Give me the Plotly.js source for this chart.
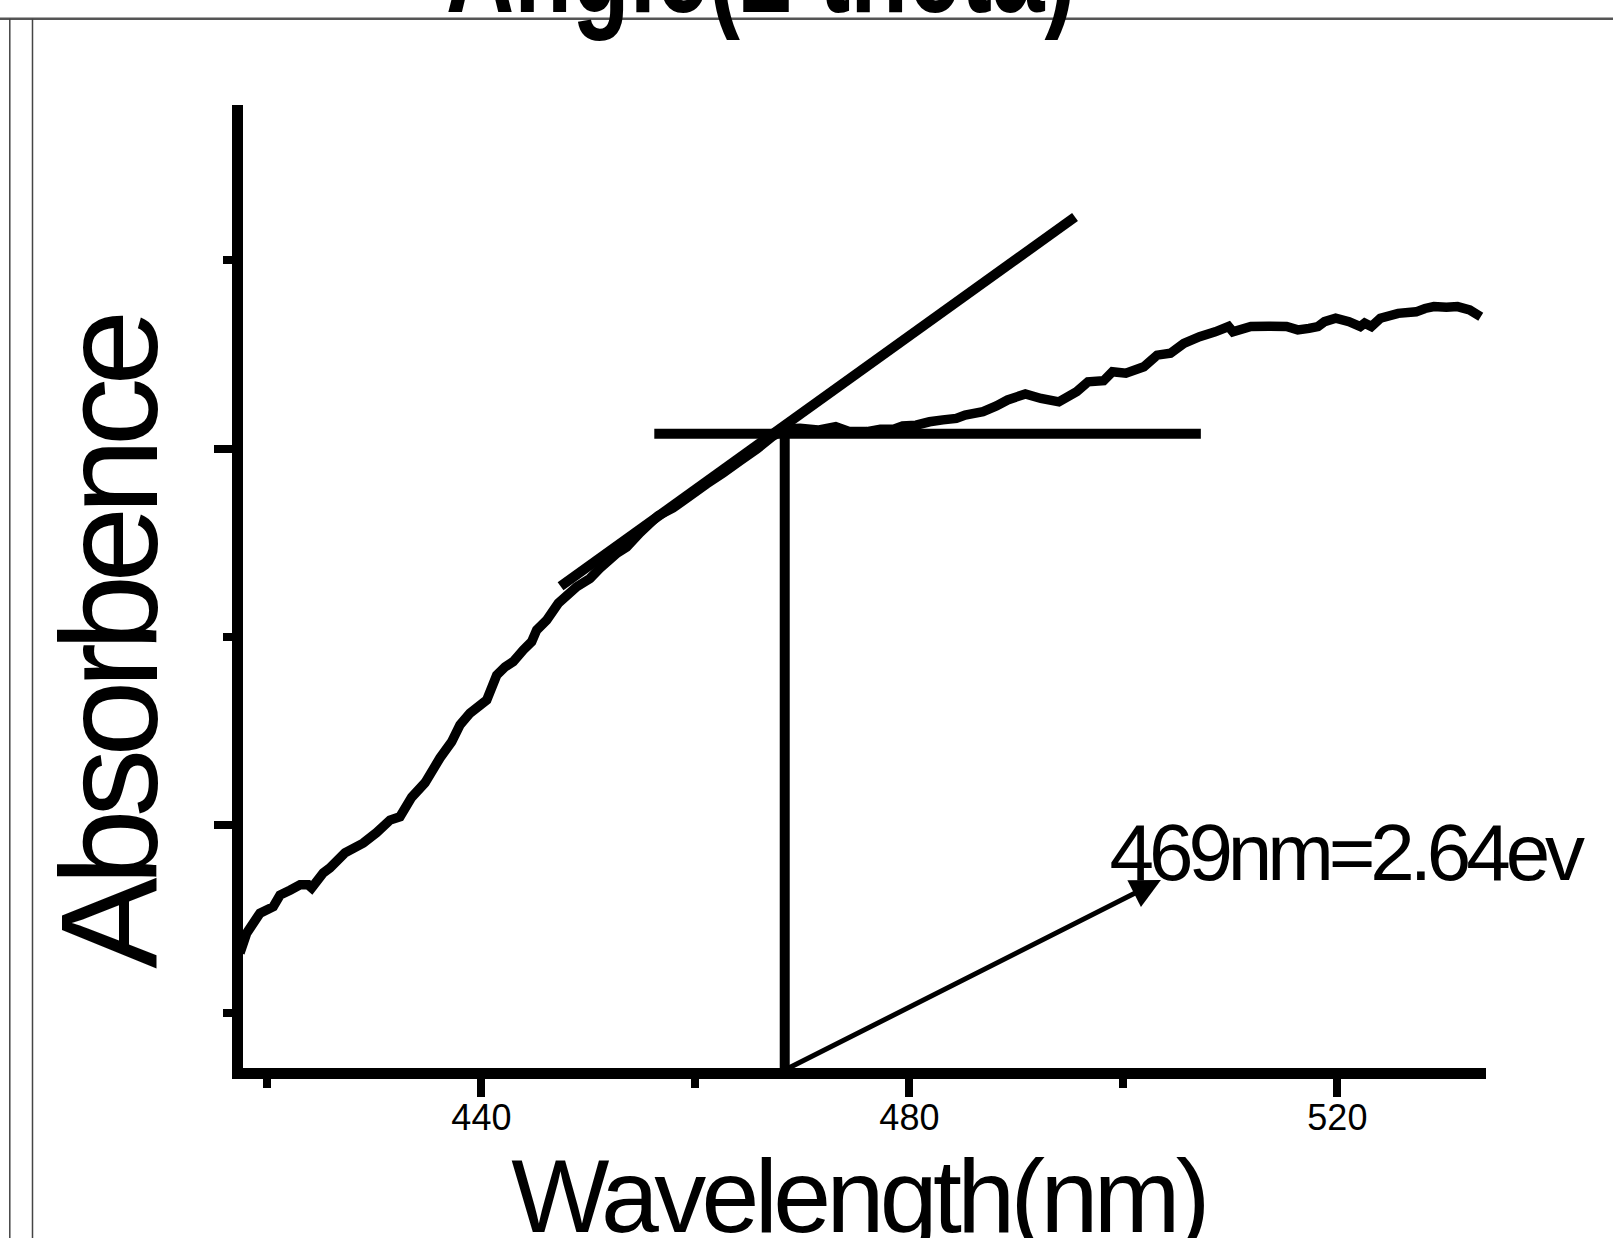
<!DOCTYPE html>
<html>
<head>
<meta charset="utf-8">
<script src="https://cdn.plot.ly/plotly-3.0.1.min.js"></script>
<style>
  html, body { margin: 0; padding: 0; background: #ffffff; }
  #chart { width: 1613px; height: 1238px; }
</style>
</head>
<body>
<div id="chart"></div>
<script>
// ---------------- data ----------------
const wavelength = [
  417.44, 418.07, 419.31, 420.55, 421.18, 422.11, 423.05, 423.82, 424.14, 425.22,
  425.85, 427.25, 428.96, 430.21, 431.46, 432.39, 433.49, 434.73, 436.13, 437.22,
  438.00, 438.93, 440.50, 441.43, 442.21, 442.98, 443.92, 444.70, 445.17, 446.10,
  447.19, 448.91, 450.15, 451.08, 452.67, 453.58, 454.82, 456.50, 457.91, 459.50,
  461.06, 462.58, 464.17, 465.76, 467.25, 468.37, 469.78, 471.45, 473.11, 474.36,
  476.04, 477.29, 478.54, 479.37, 480.62, 481.88, 483.13, 484.38, 485.21, 486.88,
  488.13, 489.18, 490.84, 492.30, 493.97, 495.64, 496.69, 498.15, 498.98, 500.23,
  501.91, 503.15, 504.40, 505.65, 507.12, 508.58, 509.83, 510.24, 511.92, 513.59,
  515.25, 516.30, 517.34, 518.18, 518.80, 519.84, 521.09, 522.14, 522.55, 523.18,
  524.02, 525.68, 527.36, 528.19, 529.02, 530.19, 531.23, 532.36, 533.40
];
const absorbance = [
  0.660, 0.713, 0.766, 0.783, 0.814, 0.827, 0.841, 0.841, 0.833, 0.873,
  0.886, 0.926, 0.952, 0.980, 1.013, 1.022, 1.074, 1.112, 1.178, 1.221,
  1.266, 1.297, 1.332, 1.398, 1.420, 1.434, 1.465, 1.487, 1.518, 1.544,
  1.589, 1.633, 1.655, 1.682, 1.722, 1.738, 1.776, 1.821, 1.842, 1.874,
  1.906, 1.935, 1.967, 1.999, 2.033, 2.052, 2.054, 2.049, 2.058, 2.045,
  2.045, 2.051, 2.051, 2.060, 2.062, 2.071, 2.076, 2.080, 2.089, 2.098,
  2.113, 2.129, 2.145, 2.133, 2.124, 2.151, 2.177, 2.180, 2.204, 2.200,
  2.217, 2.248, 2.253, 2.279, 2.297, 2.310, 2.324, 2.310, 2.324, 2.325,
  2.324, 2.315, 2.319, 2.324, 2.337, 2.346, 2.337, 2.324, 2.333, 2.324,
  2.346, 2.359, 2.363, 2.372, 2.377, 2.375, 2.377, 2.368, 2.350
];

// tangent (Tauc-style extrapolation) line
const tangentX = [447.40, 495.48];
const tangentY = [1.634, 2.615];
// horizontal baseline line
const baselineX = [456.16, 507.24];
const baselineY = [2.039, 2.039];
// vertical drop line at the band edge
const edgeX = [468.35, 468.35];
const edgeY = [2.039, 0.30];
// arrow from the edge foot to the label
const arrowTail = [468.35, 0.349];
const arrowHead = [503.51, 0.854];

// axis ticks / labels
const xTickVals = [440, 480, 520];
const xTickText = ['440', '480', '520'];
const xRange = [417.72, 533.89];
const yRange = [0.3546, 2.9124];

const xTitle = 'Wavelength(nm)';
const yTitle = 'Absorbence';
const topTitle = 'Angle(2 theta)';
const edgeLabel = '469nm=2.64ev';

// ---------------- drawing ----------------
const FONT = 'Liberation Sans, Arial, sans-serif';

const traces = [
  { x: wavelength, y: absorbance, type: 'scatter', mode: 'lines',
    line: { color: '#000000', width: 9.5, simplify: false }, hoverinfo: 'skip', showlegend: false },
  { x: tangentX, y: tangentY, type: 'scatter', mode: 'lines',
    line: { color: '#000000', width: 10, simplify: false }, hoverinfo: 'skip', showlegend: false },
  { x: baselineX, y: baselineY, type: 'scatter', mode: 'lines',
    line: { color: '#000000', width: 10, simplify: false }, hoverinfo: 'skip', showlegend: false },
  { x: edgeX, y: edgeY, type: 'scatter', mode: 'lines',
    line: { color: '#000000', width: 10, simplify: false }, hoverinfo: 'skip', showlegend: false }
];

const letterSpacing = { 0: '-8px', 1: '-4.6px', 2: '-5.1px' };
const squeeze = { 3: 0.70 };

const layout = {
  width: 1613, height: 1238,
  margin: { l: 243, r: 127, t: 105, b: 170, pad: 0 },
  paper_bgcolor: '#ffffff', plot_bgcolor: '#ffffff',
  showlegend: false,
  font: { family: FONT, color: '#000000' },
  xaxis: {
    range: xRange, showgrid: false, zeroline: false,
    showline: true, linewidth: 11, linecolor: '#000000',
    ticks: 'outside', ticklen: 18, tickwidth: 8, tickcolor: '#000000',
    tickmode: 'array', tickvals: xTickVals, ticktext: xTickText,
    ticklabelstandoff: -10,
    tickfont: { family: FONT, size: 36, color: '#000000' },
    minor: { ticks: 'outside', ticklen: 9, tickwidth: 8, tickcolor: '#000000', dtick: 20, tick0: 0 }
  },
  yaxis: {
    range: yRange, showgrid: false, zeroline: false,
    showline: true, linewidth: 11, linecolor: '#000000',
    ticks: 'outside', ticklen: 18, tickwidth: 8, tickcolor: '#000000',
    dtick: 1, tick0: 0, showticklabels: false,
    minor: { ticks: 'outside', ticklen: 9, tickwidth: 8, tickcolor: '#000000', dtick: 0.5, tick0: 0 }
  },
  annotations: [
    { text: yTitle, xref: 'paper', yref: 'paper', x: -0.1076, y: 0.4408,
      xanchor: 'center', yanchor: 'middle', textangle: -90, showarrow: false,
      font: { family: FONT, size: 137, color: '#000000' } },
    { text: xTitle, xref: 'paper', yref: 'paper', x: 0.4952, y: -0.1329,
      xanchor: 'center', yanchor: 'middle', showarrow: false,
      font: { family: FONT, size: 104, color: '#000000' } },
    { text: edgeLabel, xref: 'paper', yref: 'paper', x: 0.8862, y: 0.2235,
      xanchor: 'center', yanchor: 'middle', showarrow: false,
      font: { family: FONT, size: 80, color: '#000000' } },
    { text: topTitle, xref: 'paper', yref: 'paper', x: 0.4167, y: 1.1447,
      xanchor: 'center', yanchor: 'middle', showarrow: false,
      font: { family: FONT, size: 135, color: '#000000', weight: 'bold' } },
    { text: ' ', xref: 'x', yref: 'y', x: arrowHead[0], y: arrowHead[1],
      axref: 'x', ayref: 'y', ax: arrowTail[0], ay: arrowTail[1],
      showarrow: true, arrowhead: 2, arrowwidth: 5, arrowsize: 1.2,
      arrowcolor: '#000000', standoff: 0, startstandoff: 0,
      font: { size: 1 } }
  ],
  shapes: [
    { type: 'line', xref: 'paper', yref: 'paper', x0: -0.25, x1: 1.15, y0: 1.0896, y1: 1.0896,
      line: { color: '#555555', width: 2.5 } },
    { type: 'line', xref: 'paper', yref: 'paper', x0: -0.18761, x1: -0.18761, y0: 1.0896, y1: -0.25,
      line: { color: '#444444', width: 1.5 } },
    { type: 'line', xref: 'paper', yref: 'paper', x0: -0.16935, x1: -0.16935, y0: 1.0896, y1: -0.25,
      line: { color: '#444444', width: 1.5 } }
  ]
};

function tighten() {
  document.querySelectorAll('g.annotation').forEach(function (g) {
    const i = g.getAttribute('data-index');
    const t = g.querySelector('text.annotation-text');
    if (!t) return;
    if (letterSpacing[i] !== undefined) {
      t.style.letterSpacing = letterSpacing[i];
    }
    if (squeeze[i] !== undefined) {
      t.style.transformBox = 'fill-box';
      t.style.transformOrigin = 'center';
      t.style.transform = 'scaleX(' + squeeze[i] + ')';
    }
  });
}

const gd = document.getElementById('chart');
Plotly.newPlot(gd, traces, layout, { displayModeBar: false, staticPlot: true }).then(function () {
  tighten();
  gd.on('plotly_afterplot', tighten);
});
</script>
</body>
</html>
